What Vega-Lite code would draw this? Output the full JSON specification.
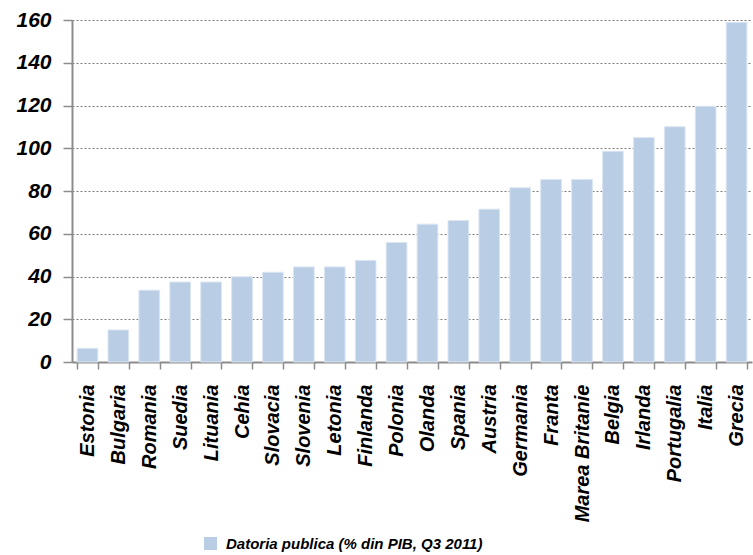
{
  "$schema": "https://vega.github.io/schema/vega-lite/v6.json",
  "width": 680,
  "height": 342,
  "autosize": "none",
  "padding": {"left": 72, "top": 20, "right": 1, "bottom": 193},
  "background": "white",
  "config": {"view": {"stroke": null}},
  "data": {
    "values": [
      {"tara": "Estonia", "datoria": 6.4},
      {"tara": "Bulgaria", "datoria": 15},
      {"tara": "Romania", "datoria": 33.6},
      {"tara": "Suedia", "datoria": 37.4},
      {"tara": "Lituania", "datoria": 37.4},
      {"tara": "Cehia", "datoria": 39.9},
      {"tara": "Slovacia", "datoria": 42},
      {"tara": "Slovenia", "datoria": 44.5},
      {"tara": "Letonia", "datoria": 44.5},
      {"tara": "Finlanda", "datoria": 47.5},
      {"tara": "Polonia", "datoria": 55.9},
      {"tara": "Olanda", "datoria": 64.5},
      {"tara": "Spania", "datoria": 66.2},
      {"tara": "Austria", "datoria": 71.5},
      {"tara": "Germania", "datoria": 81.5},
      {"tara": "Franta", "datoria": 85.4},
      {"tara": "Marea Britanie", "datoria": 85.4},
      {"tara": "Belgia", "datoria": 98.6},
      {"tara": "Irlanda", "datoria": 105},
      {"tara": "Portugalia", "datoria": 110.1},
      {"tara": "Italia", "datoria": 119.6},
      {"tara": "Grecia", "datoria": 158.9}
    ]
  },
  "mark": {"type": "bar", "stroke": "#dce6f2", "strokeWidth": 1},
  "encoding": {
    "x": {
      "field": "tara",
      "type": "nominal",
      "sort": null,
      "title": null,
      "scale": {"paddingInner": 0.33, "paddingOuter": 0.165},
      "axis": {
        "labelAngle": -90,
        "tickBand": "extent",
        "labelPadding": 15,
        "labelFont": "Liberation Sans",
        "labelFontSize": 20,
        "labelFontStyle": "italic",
        "labelFontWeight": "bold",
        "labelColor": "#000000",
        "labelLimit": 300,
        "domainColor": "#8c8c8c",
        "domainWidth": 2,
        "tickColor": "#8c8c8c",
        "tickWidth": 1.5,
        "tickSize": 7
      }
    },
    "y": {
      "field": "datoria",
      "type": "quantitative",
      "title": null,
      "scale": {"domain": [0, 160], "nice": false},
      "axis": {
        "values": [0, 20, 40, 60, 80, 100, 120, 140, 160],
        "grid": true,
        "gridColor": "#7a7a7a",
        "gridDash": [2, 2],
        "gridWidth": 1,
        "labelFont": "Liberation Sans",
        "labelFontSize": 21,
        "labelFontStyle": "italic",
        "labelFontWeight": "bold",
        "labelColor": "#000000",
        "labelPadding": 12,
        "domainColor": "#8c8c8c",
        "domainWidth": 2,
        "tickColor": "#8c8c8c",
        "tickWidth": 1.5,
        "tickSize": 9
      }
    },
    "color": {
      "datum": "Datoria publica (% din PIB, Q3 2011)",
      "type": "nominal",
      "scale": {"range": ["#B9CDE5"]},
      "legend": {
        "title": null,
        "orient": "none",
        "legendX": 131,
        "legendY": 516,
        "symbolType": "square",
        "symbolSize": 169,
        "symbolStrokeWidth": 0,
        "labelFont": "Liberation Sans",
        "labelFontSize": 15,
        "labelFontStyle": "italic",
        "labelFontWeight": "bold",
        "labelColor": "#000000",
        "labelLimit": 500,
        "labelOffset": 8
      }
    }
  }
}
